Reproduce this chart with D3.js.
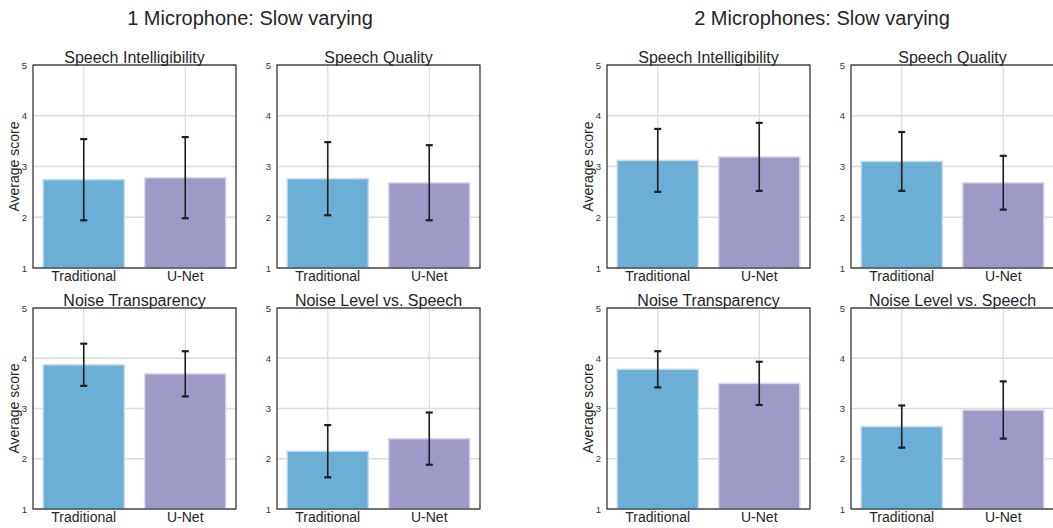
<!DOCTYPE html>
<html>
<head>
<meta charset="utf-8">
<script src="https://cdn.jsdelivr.net/npm/d3@7"></script>
<style>
  html, body { margin: 0; padding: 0; background: #fff; }
  svg { display: block; font-family: "Liberation Sans", Arial, sans-serif; }
</style>
</head>
<body>
<svg id="chart" width="1053" height="528"></svg>
<script>
// Listening test results: mean opinion score with standard deviation
const methods = ["Traditional", "U-Net"];
const metrics = ["Speech Intelligibility", "Speech Quality", "Noise Transparency", "Noise Level vs. Speech"];
const groupTitles = ["1 Microphone: Slow varying", "2 Microphones: Slow varying"];

const oneMicMeans = [[2.74, 2.78], [2.76, 2.68], [3.87, 3.69], [2.15, 2.40]];
const oneMicErr   = [[0.80, 0.80], [0.72, 0.74], [0.42, 0.45], [0.52, 0.52]];
const twoMicMeans = [[3.12, 3.19], [3.10, 2.68], [3.78, 3.50], [2.64, 2.97]];
const twoMicErr   = [[0.62, 0.67], [0.58, 0.53], [0.36, 0.43], [0.42, 0.57]];

const scoreTicks = [1, 2, 3, 4, 5];
const barFill = ["#6baed6", "#9e9ac8"];
const barEdge = ["#c6dbef", "#dadaeb"];

const svg = d3.select("#chart");

const groups = [
  { title: groupTitles[0], means: oneMicMeans, err: oneMicErr, left: 33, centerX: 250 },
  { title: groupTitles[1], means: twoMicMeans, err: twoMicErr, left: 607, centerX: 822 }
];

const panelW = 203;
const colGap = 244;          // left edge offset of second column
const rows = [{ top: 65, bottom: 268 }, { top: 308, bottom: 509 }];

groups.forEach(g => {
  svg.append("text")
    .attr("x", g.centerX).attr("y", 25)
    .attr("text-anchor", "middle")
    .attr("font-size", 20)
    .attr("fill", "#262626")
    .text(g.title);

  metrics.forEach((metric, m) => {
    const row = rows[Math.floor(m / 2)];
    const col = m % 2;
    const x0 = g.left + col * colGap;

    const x = d3.scaleBand()
      .domain(methods)
      .range([x0, x0 + panelW])
      .paddingInner(0.2)
      .paddingOuter(0.1);
    const y = d3.scaleLinear().domain([1, 5]).range([row.bottom, row.top]);

    const panel = svg.append("g");

    // grid
    panel.selectAll(".hgrid")
      .data(scoreTicks)
      .join("line")
      .attr("x1", x0).attr("x2", x0 + panelW)
      .attr("y1", d => y(d)).attr("y2", d => y(d))
      .attr("stroke", "#dcdcdc").attr("stroke-width", 1.3);
    panel.selectAll(".vgrid")
      .data(methods)
      .join("line")
      .attr("x1", d => x(d) + x.bandwidth() / 2).attr("x2", d => x(d) + x.bandwidth() / 2)
      .attr("y1", row.top).attr("y2", row.bottom)
      .attr("stroke", "#dcdcdc").attr("stroke-width", 1.3);

    // bars
    const data = methods.map((name, i) => ({ name, i, mean: g.means[m][i], err: g.err[m][i] }));
    panel.selectAll(".bar")
      .data(data)
      .join("rect")
      .attr("x", d => x(d.name))
      .attr("width", x.bandwidth())
      .attr("y", d => y(d.mean))
      .attr("height", d => y(1) - y(d.mean))
      .attr("fill", d => barFill[d.i])
      .attr("stroke", d => barEdge[d.i])
      .attr("stroke-width", 1.5);

    // error bars
    const cap = 3.5;
    const eb = panel.selectAll(".err")
      .data(data)
      .join("g")
      .attr("stroke", "#1f1f1f")
      .attr("stroke-width", 1.6);
    eb.append("line")
      .attr("x1", d => x(d.name) + x.bandwidth() / 2)
      .attr("x2", d => x(d.name) + x.bandwidth() / 2)
      .attr("y1", d => y(d.mean - d.err))
      .attr("y2", d => y(d.mean + d.err));
    eb.append("line")
      .attr("x1", d => x(d.name) + x.bandwidth() / 2 - cap)
      .attr("x2", d => x(d.name) + x.bandwidth() / 2 + cap)
      .attr("y1", d => y(d.mean + d.err))
      .attr("y2", d => y(d.mean + d.err))
      .attr("stroke-width", 2.2);
    eb.append("line")
      .attr("x1", d => x(d.name) + x.bandwidth() / 2 - cap)
      .attr("x2", d => x(d.name) + x.bandwidth() / 2 + cap)
      .attr("y1", d => y(d.mean - d.err))
      .attr("y2", d => y(d.mean - d.err))
      .attr("stroke-width", 2.2);

    // frame
    panel.append("rect")
      .attr("x", x0).attr("y", row.top)
      .attr("width", panelW).attr("height", row.bottom - row.top)
      .attr("fill", "none")
      .attr("stroke", "#262626").attr("stroke-width", 1.2);

    // axes
    const yAxis = d3.axisLeft(y).tickValues(scoreTicks).tickFormat(d3.format("d")).tickSize(0).tickPadding(6);
    panel.append("g")
      .attr("transform", `translate(${x0},0)`)
      .call(yAxis)
      .call(a => a.select(".domain").remove())
      .call(a => a.selectAll("text")
        .attr("font-size", 9.5)
        .attr("fill", "#333")
        .attr("font-family", "Liberation Sans, Arial, sans-serif"));

    const xAxis = d3.axisBottom(x).tickSize(0).tickPadding(3);
    panel.append("g")
      .attr("transform", `translate(0,${row.bottom})`)
      .call(xAxis)
      .call(a => a.select(".domain").remove())
      .call(a => a.selectAll("text")
        .attr("font-size", 14)
        .attr("fill", "#262626")
        .attr("font-family", "Liberation Sans, Arial, sans-serif"));

    // panel title
    panel.append("text")
      .attr("x", x0 + panelW / 2).attr("y", row.top - 2)
      .attr("text-anchor", "middle")
      .attr("font-size", 16)
      .attr("fill", "#262626")
      .text(metric);

    if (col === 0) {
      panel.append("text")
        .attr("transform", `translate(${x0 - 14},${(row.top + row.bottom) / 2}) rotate(-90)`)
        .attr("text-anchor", "middle")
        .attr("font-size", 14)
        .attr("fill", "#262626")
        .text("Average score");
    }
  });
});
</script>
</body>
</html>
